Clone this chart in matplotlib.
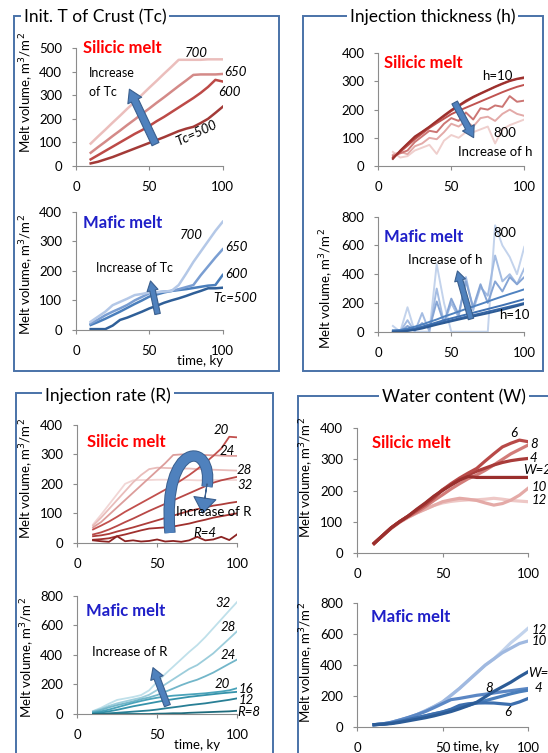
import matplotlib
matplotlib.use("Agg")
import matplotlib.pyplot as plt
from matplotlib.patches import Rectangle, FancyArrowPatch, PathPatch
from matplotlib.path import Path

plt.rcParams['font.family'] = ['Lato', 'DejaVu Sans']

W, H = 548, 753

# time axis (ky)
time = [10, 15, 20, 25, 30, 35, 40, 45, 50, 55, 60, 65, 70, 75, 80, 85, 90, 95, 100]

# --- Initial crust temperature (Tc)
tc_sil_500 = [11, 18, 28, 38, 50, 62, 74, 86, 98, 110, 122, 135, 148, 158, 166, 182, 200, 225, 251]
tc_sil_600 = [28, 46, 64, 82, 100, 118, 136, 152, 170, 190, 208, 228, 248, 268, 288, 310, 335, 365, 358]
tc_sil_650 = [56, 80, 103, 127, 150, 174, 197, 221, 244, 268, 291, 315, 339, 362, 386, 388, 388, 388, 390]
tc_sil_700 = [95, 125, 154, 184, 213, 243, 272, 302, 332, 361, 391, 420, 450, 450, 450, 450, 452, 452, 452]

tc_maf_500 = [3, 3, 3, 15, 34, 42, 52, 62, 73, 82, 92, 100, 107, 115, 124, 132, 141, 141, 143]
tc_maf_600 = [17, 27, 38, 50, 62, 75, 88, 100, 113, 120, 127, 132, 135, 138, 142, 146, 150, 152, 186]
tc_maf_650 = [22, 35, 50, 62, 73, 85, 100, 112, 124, 127, 130, 132, 138, 145, 152, 185, 215, 245, 273]
tc_maf_700 = [28, 45, 62, 84, 95, 106, 118, 122, 127, 128, 130, 132, 152, 190, 230, 265, 300, 335, 366]

# --- Injection thickness (h)
h_sil_10 = [25, 55, 80, 105, 122, 140, 160, 180, 199, 215, 232, 246, 258, 270, 282, 293, 303, 310, 315]
h_sil_20 = [28, 52, 78, 100, 120, 138, 158, 176, 195, 212, 228, 243, 256, 268, 280, 291, 301, 308, 312]
h_sil_50 = [30, 50, 72, 95, 115, 135, 152, 168, 184, 196, 207, 218, 229, 240, 251, 262, 272, 281, 288]
h_sil_100 = [35, 45, 55, 85, 105, 125, 120, 150, 170, 160, 190, 165, 205, 200, 215, 210, 248, 228, 232]
h_sil_400 = [40, 50, 42, 70, 80, 100, 95, 120, 150, 140, 160, 140, 170, 175, 160, 185, 200, 185, 178]
h_sil_800 = [50, 30, 35, 55, 65, 75, 43, 90, 110, 100, 120, 120, 130, 140, 80, 130, 145, 155, 165]

h_maf_10 = [0, 0, 5, 12, 22, 35, 48, 60, 72, 84, 95, 106, 117, 128, 140, 152, 165, 178, 192]
h_maf_20 = [0, 2, 8, 16, 28, 42, 55, 68, 80, 92, 104, 115, 127, 139, 151, 163, 175, 187, 200]
h_maf_50 = [0, 5, 12, 22, 35, 50, 65, 80, 93, 106, 119, 132, 145, 158, 171, 184, 198, 212, 226]
h_maf_100 = [10, 12, 22, 35, 50, 68, 85, 105, 122, 140, 158, 175, 192, 210, 228, 245, 262, 278, 295]
h_maf_200 = [0, 0, 40, 10, 60, 20, 210, 60, 230, 120, 350, 170, 330, 200, 350, 280, 380, 330, 380]
h_maf_400 = [0, 0, 80, 0, 130, 0, 300, 60, 200, 100, 380, 150, 310, 250, 530, 350, 400, 330, 440]
h_maf_800 = [40, 0, 170, 0, 0, 0, 470, 200, 0, 0, 0, 0, 0, 0, 740, 600, 520, 400, 590]

# --- Injection rate (R)
r_sil_4 = [8, 5, 3, 22, 5, 8, 4, 6, 11, 4, 6, 3, 8, 20, 8, 11, 20, 9, 29]
r_sil_8 = [10, 12, 15, 22, 28, 35, 42, 48, 50, 52, 55, 60, 65, 72, 78, 85, 90, 95, 100]
r_sil_12 = [22, 25, 30, 38, 45, 52, 60, 68, 76, 84, 92, 100, 108, 114, 120, 126, 130, 135, 139]
r_sil_16 = [28, 35, 45, 57, 70, 82, 95, 108, 120, 132, 144, 156, 168, 180, 192, 204, 212, 218, 224]
r_sil_20 = [45, 58, 72, 88, 105, 120, 135, 150, 165, 180, 195, 212, 230, 250, 272, 295, 320, 360, 358]
r_sil_24 = [52, 70, 95, 120, 145, 170, 195, 220, 245, 270, 298, 300, 299, 300, 298, 297, 296, 295, 295]
r_sil_28 = [58, 85, 115, 145, 175, 205, 230, 250, 255, 254, 253, 252, 252, 250, 250, 248, 247, 246, 245]
r_sil_32 = [62, 95, 130, 165, 200, 212, 213, 213, 214, 214, 213, 213, 213, 212, 212, 213, 213, 213, 213]

r_maf_8 = [0, 0, 0, 0, 0, 0, 0, 0, 2, 3, 5, 5, 8, 10, 12, 14, 16, 18, 22]
r_maf_12 = [0, 2, 5, 8, 12, 16, 20, 24, 30, 38, 45, 52, 60, 66, 72, 80, 88, 96, 106]
r_maf_16 = [5, 10, 18, 28, 40, 52, 62, 72, 82, 92, 100, 108, 116, 122, 128, 134, 140, 145, 150]
r_maf_20 = [10, 18, 30, 45, 60, 75, 88, 100, 110, 118, 124, 128, 132, 136, 140, 146, 152, 160, 175]
r_maf_24 = [15, 28, 45, 60, 72, 85, 100, 112, 128, 150, 172, 195, 215, 232, 255, 280, 310, 340, 369]
r_maf_28 = [18, 35, 55, 72, 85, 98, 110, 130, 162, 200, 235, 270, 305, 331, 370, 410, 460, 510, 561]
r_maf_32 = [20, 42, 70, 95, 105, 115, 128, 160, 218, 270, 320, 370, 420, 466, 520, 580, 640, 700, 759]

# --- Water content (W)
w_sil_2 = [30, 55, 80, 100, 118, 140, 160, 182, 200, 218, 234, 245, 242, 242, 242, 242, 242, 242, 242]
w_sil_4 = [30, 55, 80, 100, 118, 138, 158, 180, 202, 218, 234, 250, 262, 272, 282, 290, 296, 300, 303]
w_sil_6 = [30, 55, 80, 100, 118, 136, 154, 176, 202, 222, 240, 256, 271, 295, 318, 340, 352, 362, 357]
w_sil_8 = [30, 55, 80, 100, 116, 130, 148, 168, 186, 205, 222, 238, 250, 265, 282, 300, 318, 332, 346]
w_sil_10 = [30, 55, 78, 98, 114, 128, 140, 152, 164, 170, 175, 172, 168, 160, 153, 158, 169, 185, 207]
w_sil_12 = [30, 55, 78, 98, 114, 128, 140, 152, 160, 165, 168, 170, 170, 172, 175, 172, 168, 166, 164]

w_maf_2 = [15, 18, 22, 30, 40, 50, 60, 72, 86, 100, 118, 138, 160, 195, 230, 260, 290, 325, 357]
w_maf_4 = [15, 18, 25, 35, 48, 60, 72, 85, 97, 112, 126, 140, 156, 170, 185, 200, 215, 228, 238]
w_maf_6 = [15, 18, 25, 35, 48, 60, 72, 85, 97, 115, 140, 150, 155, 156, 155, 150, 145, 162, 184]
w_maf_8 = [15, 20, 30, 45, 62, 80, 100, 125, 151, 177, 185, 195, 205, 212, 220, 228, 235, 242, 249]
w_maf_10 = [15, 20, 30, 45, 60, 80, 105, 132, 162, 205, 250, 300, 350, 400, 440, 480, 510, 540, 556]
w_maf_12 = [15, 20, 30, 45, 60, 80, 105, 132, 162, 205, 250, 300, 350, 400, 440, 490, 545, 590, 638]

fig = plt.figure(figsize=(W / 100, H / 100), dpi=100)


def px(x, y):
    return x / W, 1 - y / H


def add_ax(x0, x1, ytop, ybot, ymax, ystep):
    ax = fig.add_axes([x0 / W, 1 - ybot / H, (x1 - x0) / W, (ybot - ytop) / H])
    ax.set_xlim(0, 100)
    ax.set_ylim(0, ymax)
    ax.set_xticks([0, 50, 100])
    ax.set_yticks(range(0, ymax + 1, ystep))
    for s in ['top', 'right']:
        ax.spines[s].set_visible(False)
    for s in ['left', 'bottom']:
        ax.spines[s].set_color('#8c8c8c')
        ax.spines[s].set_linewidth(0.8)
    ax.tick_params(axis='both', colors='#8c8c8c', labelcolor='black', labelsize=9.5, length=3)
    ax.tick_params(axis='y', pad=7)
    ax.tick_params(axis='x', pad=8)
    ax.patch.set_visible(False)
    return ax


def plot_set(ax, series, colors, lw):
    for ys, c in zip(series, colors):
        ax.plot(time, ys, color=c, lw=lw, solid_joinstyle='round')


def arrow(ax, a, b, tail, head, hl, ms=10):
    p = FancyArrowPatch(a, b, arrowstyle=f"simple,head_length={hl},head_width={head},tail_width={tail}",
                        mutation_scale=ms, fc='#4f81bd', ec='#3a5f8e', lw=0.8, clip_on=False, zorder=5)
    ax.add_patch(p)


def ylab(x, y):
    fig.text(*px(x, y), "Melt volume, m$^3$/m$^2$", rotation=90, ha='center', va='center', fontsize=9.5)


RED = '#ff0000'
BLUE = '#1f1fc8'
ital = dict(style='italic', fontsize=9.5, va='center', ha='left', clip_on=False)

# boxes around the four groups
box_col = '#4a72a8'
for (x0, y0, x1, y1) in [(14, 16, 279.3, 370.7), (302.7, 16, 543, 370.7),
                         (16, 393.3, 272.7, 760), (297.7, 395.7, 560, 760)]:
    fig.add_artist(Rectangle(px(x0, y1), (x1 - x0) / W, (y1 - y0) / H, transform=fig.transFigure,
                             fill=False, ec=box_col, lw=1.4))

tbox = dict(fc='white', ec='none', pad=2)
fig.text(*px(24, 17), "Init. T of Crust (Tc)", fontsize=12.5, ha='left', va='center', bbox=tbox)
fig.text(*px(350, 17), "Injection thickness (h)", fontsize=12.5, ha='left', va='center', bbox=tbox)
fig.text(*px(45, 396), "Injection rate (R)", fontsize=12.5, ha='left', va='center', bbox=tbox)
fig.text(*px(382, 397), "Water content (W)", fontsize=12.5, ha='left', va='center', bbox=tbox)

# ---------- Panel: Tc silicic
ax1 = add_ax(76, 222.7, 48, 166, 500, 100)
plot_set(ax1, [tc_sil_500, tc_sil_600, tc_sil_650, tc_sil_700],
         ['#a33a37', '#bd4a47', '#d48a88', '#ebbebc'], 1.8)
ax1.text(5, 500, "Silicic melt", color=RED, fontweight='bold', fontsize=12, va='center')
ax1.text(9, 394, "Increase", fontsize=9, va='center')
ax1.text(9, 313, "of Tc", fontsize=9, va='center')
ax1.text(74.3, 477, "700", **ital)
ax1.text(100.9, 400, "650", **ital)
ax1.text(97, 315, "600", **ital)
ax1.text(82.3, 138, "Tc=500", style='italic', fontsize=9.5, ha='center', va='center', rotation=25)
arrow(ax1, (55, 82), (35.6, 336), 0.55, 1.1, 0.9)
ylab(27, 93)

# ---------- Panel: Tc mafic
ax2 = add_ax(76, 222.7, 211.7, 330, 400, 100)
plot_set(ax2, [tc_maf_500, tc_maf_600, tc_maf_650, tc_maf_700],
         ['#2f5f98', '#4a7ebb', '#7a9ed2', '#b4c8e7'], 1.8)
ax2.text(5, 361, "Mafic melt", color=BLUE, fontweight='bold', fontsize=12, va='center')
ax2.text(13.6, 209, "Increase of Tc", fontsize=9, va='center')
ax2.text(70.9, 322, "700", **ital)
ax2.text(101.6, 282, "650", **ital)
ax2.text(101.6, 191, "600", **ital)
ax2.text(93.6, 107, "Tc=500", **ital)
arrow(ax2, (56, 45), (50.4, 175), 0.4, 0.8, 0.7)
ylab(26.7, 275)
fig.text(*px(200, 361), "time, ky", fontsize=9.5, ha='center', va='center')

# ---------- Panel: h silicic
ax3 = add_ax(378.3, 524.3, 53.3, 166, 400, 100)
plot_set(ax3, [h_sil_800, h_sil_400, h_sil_100, h_sil_50, h_sil_20, h_sil_10],
         ['#efcfcd', '#e3aaa8', '#cc7573', '#c05350', '#ad3f3c', '#9c302d'], 1.4)
ax3.text(4.1, 367, "Silicic melt", color=RED, fontweight='bold', fontsize=12, va='center')
ax3.text(70.8, 319, "h=10", fontsize=9.5, va='center')
ax3.text(78.8, 117, "800", fontsize=9.5, va='center')
ax3.text(54.7, 51, "Increase of h", fontsize=9.5, va='center', clip_on=False)
arrow(ax3, (51.4, 234), (66.2, 92), 0.45, 0.95, 0.8)

# ---------- Panel: h mafic
ax4 = add_ax(378.3, 524.3, 216.7, 331.7, 800, 200)
plot_set(ax4, [h_maf_800, h_maf_400, h_maf_200, h_maf_100, h_maf_50, h_maf_20, h_maf_10],
         ['#c3d3ec', '#a4bce2', '#86a5d5', '#4f82c0', '#3f71b2', '#3566a6', '#2c5a94'], 1.4)
ax4.text(4.1, 661, "Mafic melt", color=BLUE, fontweight='bold', fontsize=12, va='center')
ax4.text(78.8, 689, "800", fontsize=9.5, va='center')
ax4.text(20.1, 499, "Increase of h", fontsize=9.5, va='center')
ax4.text(82.7, 116, "h=10", fontsize=9.5, va='center')
arrow(ax4, (64, 70), (53.7, 441), 0.4, 0.8, 0.7)
ylab(326.7, 289)

# ---------- Panel: R silicic
ax5 = add_ax(77, 237.3, 425, 542.7, 400, 100)
plot_set(ax5, [r_sil_32, r_sil_28, r_sil_24, r_sil_20, r_sil_16, r_sil_12, r_sil_8, r_sil_4],
         ['#f2d6d5', '#e9bdbb', '#dc9d9b', '#c2504d', '#b84846', '#ad3d3a', '#a0302e', '#8c2322'], 1.3)
ax5.text(6.4, 343, "Silicic melt", color=RED, fontweight='bold', fontsize=12, va='center')
ax5.text(85, 383, "20", **ital)
ax5.text(89.2, 313, "24", **ital)
ax5.text(99.6, 247, "28", **ital)
ax5.text(100, 196, "32", **ital)
ax5.text(62, 105, "Increase of R", fontsize=9.5, va='center', clip_on=False, zorder=6)
ax5.text(72.6, 32, "R=4", **ital)
# U-turn arrow: thick curved body plus a head
uturn = Path([(58, 33), (53, 349), (85.5, 349), (81.1, 190)],
             [Path.MOVETO, Path.CURVE4, Path.CURVE4, Path.CURVE4])
ax5.add_patch(PathPatch(uturn, fill=False, ec='#3a5f8e', lw=8.2, capstyle='butt', zorder=5, clip_on=False))
ax5.add_patch(PathPatch(uturn, fill=False, ec='#4f81bd', lw=6.8, capstyle='butt', zorder=5, clip_on=False))
ax5.add_patch(FancyArrowPatch((81.1, 200), (78.4, 100),
                              arrowstyle="simple,head_length=1.0,head_width=1.45,tail_width=0.01",
                              mutation_scale=11, fc='#4f81bd', ec='#3a5f8e', lw=0.8, zorder=5,
                              shrinkA=0, shrinkB=0, clip_on=False))
ylab(26.7, 479)

# ---------- Panel: R mafic
ax6 = add_ax(77, 237.3, 595.7, 714, 800, 200)
plot_set(ax6, [r_maf_32, r_maf_28, r_maf_24, r_maf_20, r_maf_16, r_maf_12, r_maf_8],
         ['#bfe0ea', '#9ccddb', '#72b6c9', '#4aa3ba', '#3592aa', '#287f95', '#1d6b7c'], 1.3)
ax6.text(5.6, 697, "Mafic melt", color=BLUE, fontweight='bold', fontsize=12, va='center')
ax6.text(86.1, 748, "32", **ital)
ax6.text(89.6, 591, "28", **ital)
ax6.text(89.6, 399, "24", **ital)
ax6.text(86.1, 203, "20", **ital)
ax6.text(100.6, 167, "16", **ital)
ax6.text(100.6, 95, "12", **ital)
ax6.text(100, 16, "R=8", **ital)
ax6.text(9.2, 421, "Increase of R", fontsize=9.5, va='center')
arrow(ax6, (57, 39), (46.8, 331), 0.45, 0.95, 0.8)
ylab(28.3, 658)
fig.text(*px(196.7, 745), "time, ky", fontsize=9.5, ha='center', va='center')

# ---------- Panel: W silicic
ax7 = add_ax(357, 528, 428.3, 552.7, 400, 100)
plot_set(ax7, [w_sil_12, w_sil_10, w_sil_8, w_sil_4, w_sil_6, w_sil_2],
         ['#eec8c6', '#e4aaa7', '#d27c79', '#a93c3a', '#b84a48', '#9a2f2d'], 2.3)
ax7.text(8.6, 352, "Silicic melt", color=RED, fontweight='bold', fontsize=12, va='center')
ax7.text(89.5, 384, "6", **ital)
ax7.text(101.2, 349, "8", **ital)
ax7.text(101.2, 304, "4", **ital)
ax7.text(97.3, 266, "W=2", **ital)
ax7.text(102, 212, "10", **ital)
ax7.text(102, 169, "12", **ital)
ylab(306.7, 478)

# ---------- Panel: W mafic
ax8 = add_ax(357, 528, 603.3, 727, 800, 200)
plot_set(ax8, [w_maf_12, w_maf_10, w_maf_8, w_maf_4, w_maf_6, w_maf_2],
         ['#c2d3ec', '#a0b9e0', '#5b87c4', '#4a7ebb', '#3d6fae', '#2c5c97'], 2.3)
ax8.text(8.2, 713, "Mafic melt", color=BLUE, fontweight='bold', fontsize=12, va='center')
ax8.text(102, 627, "12", **ital)
ax8.text(102, 556, "10", **ital)
ax8.text(100, 347, "W=", **ital)
ax8.text(104, 250, "4", **ital)
ax8.text(74.9, 250, "8", **ital)
ax8.text(86.1, 95, "6", **ital)
ylab(306.7, 663)
fig.text(*px(476, 746.7), "time, ky", fontsize=9.5, ha='center', va='center')

fig.savefig("out.png", dpi=100)
